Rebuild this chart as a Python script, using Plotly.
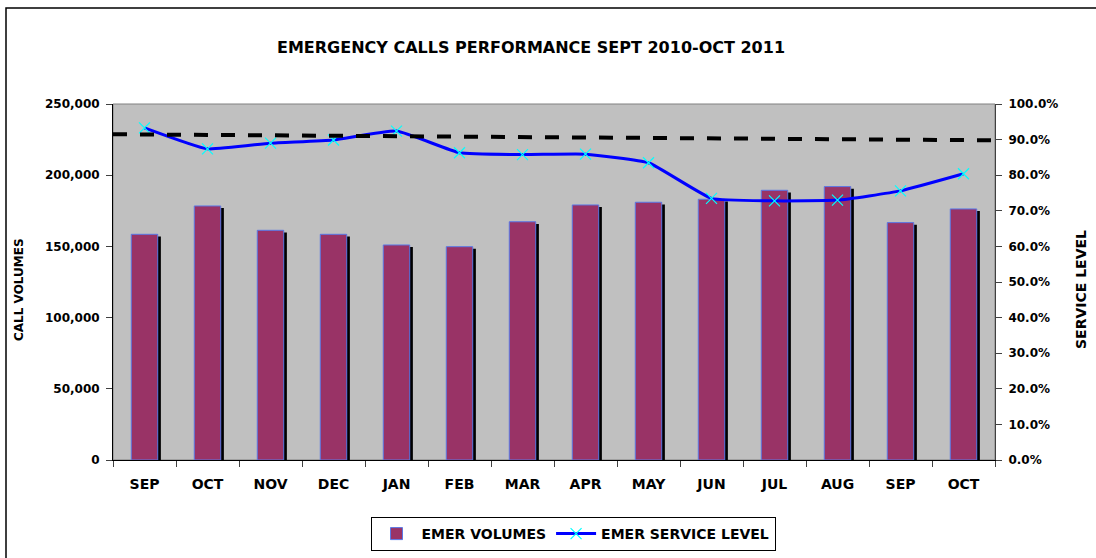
import plotly.graph_objects as go

months = ["SEP", "OCT", "NOV", "DEC", "JAN", "FEB", "MAR", "APR", "MAY", "JUN", "JUL", "AUG", "SEP ", "OCT "]
month_labels = ["SEP", "OCT", "NOV", "DEC", "JAN", "FEB", "MAR", "APR", "MAY", "JUN", "JUL", "AUG", "SEP", "OCT"]
emer_volumes = [158500, 178400, 161300, 158500, 151000, 149800, 167300,
                179100, 181000, 183100, 189400, 192000, 166700, 176300]
emer_service_level = [93.3, 87.4, 89.0, 89.9, 92.4, 86.3, 85.8,
                      85.9, 83.5, 73.5, 72.8, 73.0, 75.6, 80.4]
target_line = [91.5, 89.8]  # dashed reference line, start and end (%)
left_ticks = [0, 50000, 100000, 150000, 200000, 250000]
right_ticks = [0, 10, 20, 30, 40, 50, 60, 70, 80, 90, 100]
right_tick_labels = [f"{v:.1f}%" for v in right_ticks]

FONT = "DejaVu Sans"
W, H = 1096, 558
L, R, T, B = 113, 101, 104, 98
pw, ph = W - L - R, H - T - B


def px_x(x):
    return (x - L) / pw


def px_y(y):
    return (H - B - y) / ph


def bold(size):
    return dict(family=FONT, size=size, color="black", weight="bold")


bar_w = 0.42
fig = go.Figure()
# shadow
fig.add_trace(go.Bar(
    x=months, y=[v - 1500 for v in emer_volumes], width=bar_w, offset=-bar_w / 2 + 0.05,
    marker=dict(color="black", line=dict(width=0)), showlegend=False, hoverinfo="skip"))
fig.add_trace(go.Bar(
    x=months, y=emer_volumes, width=bar_w, offset=-bar_w / 2, name="EMER VOLUMES",
    marker=dict(color="#993366", line=dict(color="#5a78e6", width=1))))
fig.add_trace(go.Scatter(
    x=months, y=emer_service_level, yaxis="y2", name="EMER SERVICE LEVEL",
    mode="lines+markers", line=dict(color="#0000ff", width=3, shape="spline", smoothing=0.4),
    marker=dict(symbol="x-thin", size=11, line=dict(color="#00ffff", width=1.2), color="#00ffff")))

fig.update_layout(
    width=W, height=H,
    margin=dict(l=L, r=R, t=T, b=B, autoexpand=False),
    paper_bgcolor="white", plot_bgcolor="#c0c0c0",
    barmode="overlay",
    showlegend=True,
    title=dict(text="EMERGENCY CALLS PERFORMANCE SEPT 2010-OCT 2011",
               font=bold(16),
               x=px_x(531), xref="paper", xanchor="center",
               y=1 - 47 / H, yref="container", yanchor="middle"),
    xaxis=dict(type="category", tickvals=months, ticktext=month_labels,
               tickson="boundaries", ticks="outside", ticklen=6, tickcolor="#404040",
               showline=True, linecolor="black", linewidth=1, showgrid=False,
               tickfont=bold(14), ticklabelstandoff=11, range=[-0.5, 13.5]),
    yaxis=dict(range=[0, 250000], tickvals=left_ticks, tickformat=",d",
               ticks="outside", ticklen=6, tickcolor="#404040",
               showline=True, linecolor="black", linewidth=1, showgrid=False,
               zeroline=False, tickfont=bold(12), ticklabelstandoff=4),
    yaxis2=dict(range=[0, 100], tickvals=right_ticks, ticktext=right_tick_labels,
                overlaying="y", side="right",
                ticks="outside", ticklen=6, tickcolor="#404040",
                showline=True, linecolor="#404040", linewidth=1, showgrid=False,
                zeroline=False, tickfont=bold(12), ticklabelstandoff=4),
    legend=dict(orientation="h", x=px_x(573), xanchor="center", y=px_y(517), yanchor="top",
                bordercolor="black", borderwidth=1, bgcolor="white",
                font=bold(14), itemwidth=40, tracegroupgap=0),
    shapes=[
        dict(type="line", xref="paper", yref="y2", x0=0, x1=1,
             y0=target_line[0], y1=target_line[1],
             line=dict(color="black", width=4, dash="14px,13px"), layer="above"),
        dict(type="rect", xref="paper", yref="paper", x0=0, x1=1, y0=0, y1=1,
             line=dict(color="#808080", width=1), layer="below"),
        dict(type="rect", xref="paper", yref="paper", x0=px_x(6), x1=px_x(1200),
             y0=px_y(700), y1=px_y(8), line=dict(color="black", width=1.5)),
    ],
    annotations=[
        dict(text="CALL VOLUMES", textangle=-90, xref="paper", yref="paper",
             x=px_x(19), y=px_y(290), xanchor="center", yanchor="middle",
             showarrow=False, font=bold(12)),
        dict(text="SERVICE LEVEL", textangle=-90, xref="paper", yref="paper",
             x=px_x(1081), y=px_y(290), xanchor="center", yanchor="middle",
             showarrow=False, font=bold(14)),
    ],
)

fig.write_html("out.html", config={"displayModeBar": False},
               post_script="document.body.style.margin='0px';")
